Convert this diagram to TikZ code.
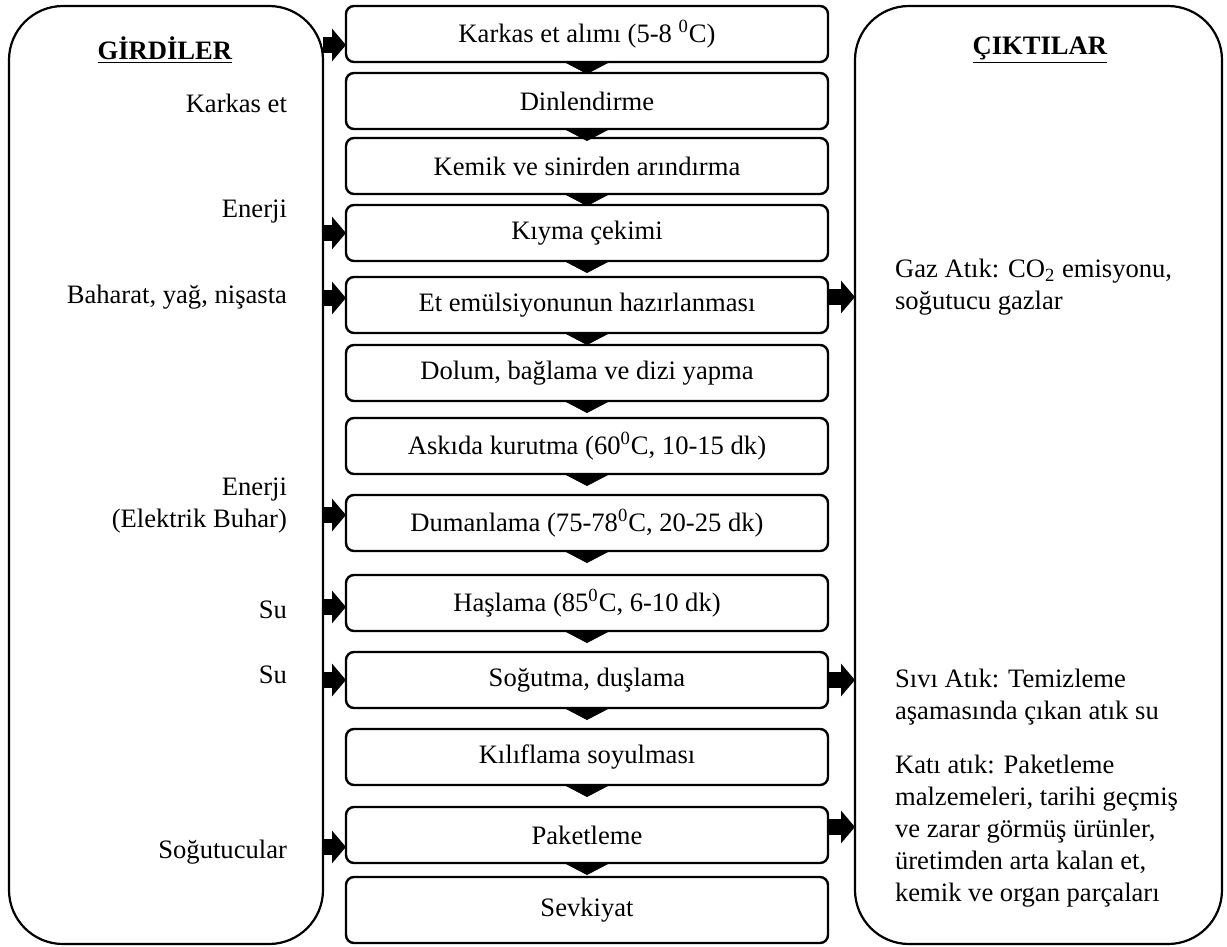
\documentclass[tikz,border=0pt]{standalone}
\usepackage{fontspec}
\setmainfont{Liberation Serif}
\usetikzlibrary{positioning}
\usetikzlibrary{calc}
\usetikzlibrary{arrows.meta}

\begin{document}
\begin{tikzpicture}[x=0.5pt,y=-0.5pt,font=\fontsize{13.3}{16}\selectfont,
		pnode/.style={rectangle,rounded corners=4pt,draw=black,line width=1.2pt,minimum width=241pt,minimum height=28pt,inner sep=2pt,outer sep=0pt},
		snode/.style={rectangle,rounded corners=27pt,draw=black,line width=1.1pt,minimum height=469pt,outer sep=0pt},
		flow/.style={-{Triangle[width=21pt,length=5.5pt]},line width=0.4pt},
		bigarrow/.style={line width=8pt,-{Triangle[width=16pt,length=7pt]}},
		inlabel/.style={anchor=east,align=right},
		outlabel/.style={anchor=west,align=left}]
		\useasboundingbox (0,0) rectangle (1227,947);
		% side boxes
		\node[snode,minimum width=157pt] (girdi) at (166,475) {};
		\node[snode,minimum width=183.5pt] (cikti) at (1038.5,475) {};
		\node (gbaslik) at (165,50) {\underline{\textbf{GİRDİLER}}};
		\node (cbaslik) at (1040,50) {\underline{\textbf{ÇIKTILAR}}};
		% process steps
		\node[pnode] (s1) at (587,34) {Karkas et alımı (5-8 \textsuperscript{0}C)};
		\node[pnode] (s2)[below = 5.5pt of s1]{Dinlendirme};
		\node[pnode] (s3)[below = 4.5pt of s2]{Kemik ve sinirden arındırma};
		\node[pnode] (s4)[below = 5.5pt of s3]{Kıyma çekimi};
		\node[pnode] (s5)[below = 8pt of s4]{Et emülsiyonunun hazırlanması};
		\node[pnode] (s6)[below = 6pt of s5]{Dolum, bağlama ve dizi yapma};
		\node[pnode] (s7)[below = 8.5pt of s6]{Askıda kurutma (60\textsuperscript{0}C, 10-15 dk)};
		\node[pnode] (s8)[below = 10.5pt of s7]{Dumanlama (75-78\textsuperscript{0}C, 20-25 dk)};
		\node[pnode] (s9)[below = 12pt of s8]{Haşlama (85\textsuperscript{0}C, 6-10 dk)};
		\node[pnode] (s10)[below = 10.5pt of s9]{Soğutma, duşlama};
		\node[pnode] (s11)[below = 10.5pt of s10]{Kılıflama soyulması};
		\node[pnode] (s12)[below = 11pt of s11]{Paketleme};
		\node[pnode,minimum height=33pt] (s13)[below = 7pt of s12]{Sevkiyat};
		\draw[flow] (s1.south) -- ($(s1.south)!6pt!(s2.north)$);
		\draw[flow] (s2.south) -- ($(s2.south)!6pt!(s3.north)$);
		\draw[flow] (s3.south) -- ($(s3.south)!6pt!(s4.north)$);
		\draw[flow] (s4.south) -- ($(s4.south)!6pt!(s5.north)$);
		\draw[flow] (s5.south) -- ($(s5.south)!6pt!(s6.north)$);
		\draw[flow] (s6.south) -- ($(s6.south)!6pt!(s7.north)$);
		\draw[flow] (s7.south) -- ($(s7.south)!6pt!(s8.north)$);
		\draw[flow] (s8.south) -- ($(s8.south)!6pt!(s9.north)$);
		\draw[flow] (s9.south) -- ($(s9.south)!6pt!(s10.north)$);
		\draw[flow] (s10.south) -- ($(s10.south)!6pt!(s11.north)$);
		\draw[flow] (s11.south) -- ($(s11.south)!6pt!(s12.north)$);
		\draw[flow] (s12.south) -- ($(s12.south)!6pt!(s13.north)$);
		% inputs
		\node[inlabel] (g1) at (294,103) {Karkas et};
		\node[inlabel] (g2) at (294,212) {Enerji};
		\node[inlabel] (g3) at (294,297) {Baharat, yağ, nişasta};
		\node[inlabel] (g4) at (294,506) {Enerji\\(Elektrik Buhar)};
		\node[inlabel] (g5) at (294,610) {Su};
		\node[inlabel] (g6) at (294,675) {Su};
		\node[inlabel] (g7) at (294,852) {Soğutucular};
		\draw[bigarrow] ([yshift=-5.5pt]s1.west -| girdi.east) -- ([yshift=-5.5pt]s1.west);
		\draw[bigarrow] (s4.west -| girdi.east) -- (s4.west);
		\draw[bigarrow] ([yshift=3.5pt]s5.west -| girdi.east) -- ([yshift=3.5pt]s5.west);
		\draw[bigarrow] ([yshift=4pt]s8.west -| girdi.east) -- ([yshift=4pt]s8.west);
		\draw[bigarrow] ([yshift=-2pt]s9.west -| girdi.east) -- ([yshift=-2pt]s9.west);
		\draw[bigarrow] (s10.west -| girdi.east) -- (s10.west);
		\draw[bigarrow] ([yshift=-6pt]s12.west -| girdi.east) -- ([yshift=-6pt]s12.west);
		% outputs
		\node[outlabel] (c1) at (888,287) {Gaz Atık: CO\textsubscript{2} emisyonu,\\soğutucu gazlar};
		\node[outlabel] (c2) at (888,697) {Sıvı Atık: Temizleme\\aşamasında çıkan atık su};
		\node[outlabel] (c3) at (888,831) {Katı atık: Paketleme\\malzemeleri, tarihi geçmiş\\ve zarar görmüş ürünler,\\üretimden arta kalan et,\\kemik ve organ parçaları};
		\draw[bigarrow] ([yshift=4pt]s5.east) -- ([yshift=4pt]s5.east -| cikti.west);
		\draw[bigarrow] (s10.east) -- (s10.east -| cikti.west);
		\draw[bigarrow] ([yshift=4pt]s12.east) -- ([yshift=4pt]s12.east -| cikti.west);
	\end{tikzpicture}
\end{document}
